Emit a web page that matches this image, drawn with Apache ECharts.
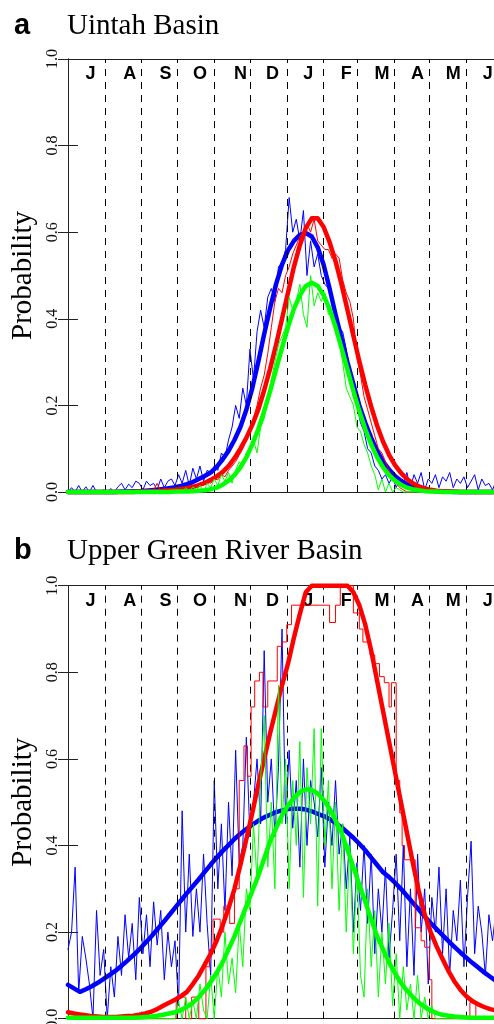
<!DOCTYPE html>
<html><head><meta charset="utf-8">
<script src="https://cdn.jsdelivr.net/npm/echarts@6/dist/echarts.min.js"></script>
<style>html,body{margin:0;padding:0;background:#fff}#c{width:494px;height:1024px}</style>
</head><body><div id="c"></div>
<script>
// ---------- axis labels ----------
const monthLabels = ['J','A','S','O','N','D','J','F','M','A','M','J'];
const monthLabelDays = [19, 52, 82, 111, 145, 172, 202, 234, 264, 294, 324, 353];
const monthStartDays = [31, 62, 92, 123, 153, 184, 215, 243, 274, 304, 335];
const yTickValues = [0, 0.2, 0.4, 0.6, 0.8, 1.0];
const panelLetters = ['a', 'b'];
const panelTitles = ['Uintah Basin', 'Upper Green River Basin'];
const yName = 'Probability';

// ---------- sampling grids (days since 1 July) ----------
const obsStep = 3;   // observed series: one value every 3 days
const fitStep = 5;   // fitted curves: one value every 5 days

// ---------- Panel a : Uintah Basin ----------
const uintahBlueObs = [
 0,0.01,0,0.015,0,0.012,0,0.015,0,0,0.005,
 0,0.008,0,0.012,0.02,0.005,0.018,0.01,0.025,0.02,
 0.005,0.025,0.015,0.02,0.005,0.03,0.01,0.025,0.03,0.015,
 0.04,0.02,0.05,0.015,0.055,0.03,0.06,0.025,0.05,0.045,
 0.06,0.05,0.09,0.08,0.12,0.15,0.2,0.17,0.24,0.2,
 0.33,0.26,0.37,0.42,0.38,0.45,0.47,0.44,0.52,0.53,
 0.56,0.68,0.6,0.63,0.58,0.65,0.5,0.58,0.52,0.55,
 0.5,0.48,0.47,0.44,0.42,0.38,0.37,0.33,0.28,0.22,
 0.2,0.16,0.14,0.1,0.09,0.06,0.05,0.03,0.04,0.02,
 0.035,0.01,0.03,0.02,0.045,0.01,0.04,0.02,0.045,0.005,
 0.03,0.02,0.04,0.01,0.035,0.025,0.045,0.01,0.03,0.02,
 0.035,0.01,0.025,0.04,0.005,0.03,0.015,0.02,0.005,0.025,0.01];
const uintahRedObs = [
 0,0,0,0,0,0,0,0,0,0,0,
 0,0,0,0,0,0,0,0,0,0,
 0,0,0,0.005,0.02,0,0.01,0,0.005,0,
 0.01,0.005,0.012,0.008,0.015,0.01,0.02,0.015,0.025,0.02,
 0.03,0.028,0.04,0.035,0.05,0.06,0.07,0.085,0.1,0.12,
 0.14,0.17,0.2,0.24,0.27,0.32,0.38,0.44,0.47,0.46,
 0.5,0.52,0.55,0.57,0.59,0.6,0.62,0.6,0.63,0.58,
 0.57,0.56,0.56,0.54,0.55,0.54,0.49,0.46,0.44,0.4,
 0.31,0.27,0.22,0.19,0.16,0.13,0.1,0.09,0.07,0.05,
 0.035,0.02,0.01,0.005,0,0,0,0,0,0,
 0,0,0,0,0,0,0,0,0,0,
 0,0,0,0,0,0,0,0,0,0,0];
const uintahGreenObs = [
 0,0,0,0,0,0,0,0,0,0,0,
 0,0,0,0,0,0,0,0,0,0,
 0,0,0,0,0,0,0,0,0,0,
 0.005,0,0.01,0,0.012,0.005,0.015,0,0.02,0.01,
 0.03,0.015,0.04,0.025,0.045,0.02,0.05,0.07,0.06,0.09,
 0.1,0.12,0.09,0.15,0.17,0.22,0.26,0.3,0.34,0.36,
 0.38,0.45,0.42,0.44,0.48,0.41,0.38,0.5,0.43,0.46,
 0.44,0.46,0.41,0.42,0.38,0.35,0.3,0.24,0.22,0.2,
 0.15,0.14,0.11,0.09,0.06,0.04,0.005,0.03,0,0.02,
 0,0.01,0.005,0,0,0,0,0,0,0,
 0,0,0,0,0,0,0,0,0,0,
 0,0,0,0,0,0,0,0,0,0,0];
const uintahBlueFit = [
 0,0,0,0,0,0,0,0,0,0.001,
 0.001,0.002,0.002,0.003,0.004,0.005,0.007,0.009,0.011,0.014,
 0.018,0.023,0.03,0.037,0.045,0.058,0.075,0.095,0.12,0.15,
 0.19,0.24,0.3,0.365,0.425,0.48,0.525,0.558,0.58,0.594,
 0.598,0.59,0.565,0.525,0.47,0.41,0.355,0.3,0.25,0.2,
 0.16,0.125,0.095,0.07,0.052,0.037,0.026,0.018,0.012,0.008,
 0.005,0.003,0.002,0.001,0.001,0,0,0,0,0,
 0,0,0,0];
const uintahRedFit = [
 0,0,0,0,0,0,0,0,0,0,
 0,0,0.001,0.001,0.002,0.002,0.003,0.004,0.005,0.007,
 0.009,0.012,0.016,0.021,0.028,0.036,0.046,0.06,0.078,0.1,
 0.125,0.155,0.19,0.235,0.285,0.34,0.4,0.46,0.52,0.57,
 0.61,0.632,0.632,0.612,0.577,0.533,0.48,0.421,0.361,0.302,
 0.247,0.197,0.153,0.116,0.086,0.062,0.044,0.03,0.02,0.013,
 0.0085,0.005,0.003,0.002,0.001,0.001,0,0,0,0,
 0,0,0,0];
const uintahGreenFit = [
 0,0,0,0,0,0,0,0,0,0,
 0,0,0,0,0,0,0,0,0.001,0.001,
 0.001,0.002,0.003,0.004,0.0065,0.01,0.017,0.026,0.039,0.057,
 0.08,0.11,0.145,0.187,0.233,0.283,0.333,0.381,0.423,0.454,
 0.476,0.483,0.476,0.454,0.423,0.381,0.333,0.283,0.233,0.187,
 0.145,0.11,0.08,0.057,0.039,0.026,0.017,0.01,0.0065,0.004,
 0.002,0.001,0.001,0,0,0,0,0,0,0,
 0,0,0,0];

// ---------- Panel b : Upper Green River Basin ----------
const greenRiverBlueObs = [
 0.16,0.2,0.35,0.06,0.19,0.14,0.08,0,0.25,0.1,0.16,
 0,0.12,0.05,0.19,0.1,0.24,0.14,0.22,0.09,0.28,
 0.15,0.24,0.12,0.27,0.17,0.25,0.09,0.2,0.12,0.18,
 0.03,0.48,0.2,0.38,0.19,0.3,0.2,0.38,0.22,0.1,
 0.55,0.3,0.45,0.25,0.5,0.33,0.62,0.36,0.4,0.65,
 0.42,0.5,0.6,0.45,0.85,0.5,0.6,0.42,0.58,0.9,
 0.45,0.62,0.44,0.55,0.35,0.6,0.4,0.55,0.5,0.42,
 0.58,0.35,0.5,0.4,0.55,0.38,0.45,0.3,0.42,0.2,
 0.36,0.25,0.4,0.22,0.38,0.15,0.3,0.2,0.35,0.14,
 0.25,0.38,0.18,0.4,0.12,0.3,0.1,0.38,0.2,0.3,
 0.08,0.28,0.2,0.35,0.15,0.3,0.1,0.25,0.18,0.32,
 0.12,0.28,0.41,0.15,0.26,0.2,0.1,0.24,0.18,0.25,0.2];
const greenRiverGreenObs = [
 0,0,0,0,0,0,0,0,0,0,0,
 0,0,0,0,0,0,0,0,0,0,
 0,0,0,0,0,0,0,0,0,0,
 0.04,0,0.05,0,0.04,0,0.08,0.02,0,0.1,
 0,0.12,0.05,0.2,0.08,0.14,0.06,0.22,0.12,0.3,
 0.25,0.45,0.32,0.55,0.7,0.35,0.5,0.3,0.77,0.45,
 0.6,0.3,0.55,0.4,0.64,0.28,0.58,0.45,0.67,0.26,
 0.67,0.4,0.55,0.3,0.5,0.25,0.45,0.2,0.4,0.15,
 0.35,0.1,0.05,0.3,0.12,0.25,0.05,0.2,0.08,0.22,
 0.03,0.15,0,0.12,0.02,0.08,0,0.1,0,0.05,
 0,0.03,0,0,0,0,0,0,0,0,
 0,0,0,0,0,0,0,0,0,0,0];
// red observed series is a step function: day where each level starts, and the level
const greenRiverRedStepDays = [0,91,99,104,110,116,119,122,128,131,136,140,144,148,151,154,157,161,164,168,
 176,180,184,188,220,225,229,240,245,248,254,258,262,266,270,272,276,279,281,283,292,297,300,304,306,338,343,365];
const greenRiverRedStepVals = [0,0.05,0,0.05,0,0.12,0.16,0.23,0.2,0.26,0.22,0.3,0.55,0.63,0.56,0.72,0.78,0.8,0.72,0.78,
 0.86,0.87,0.91,0.955,0.915,0.955,1.0,0.937,0.9,0.87,0.84,0.82,0.79,0.776,0.72,0.776,0.55,0.475,0.4,0.367,0.21,0.18,0.165,0.09,0,0.037,0,0];
const greenRiverBlueFit = [
 0.078,0.07,0.062,0.068,0.075,0.083,0.092,0.101,0.111,0.122,
 0.134,0.147,0.16,0.175,0.19,0.206,0.222,0.239,0.256,0.273,
 0.29,0.306,0.322,0.339,0.356,0.372,0.387,0.401,0.415,0.427,
 0.438,0.448,0.457,0.465,0.471,0.477,0.481,0.484,0.485,0.485,
 0.483,0.479,0.473,0.468,0.461,0.452,0.442,0.43,0.418,0.404,
 0.389,0.372,0.355,0.338,0.327,0.314,0.3,0.284,0.268,0.252,
 0.236,0.221,0.207,0.193,0.179,0.166,0.153,0.141,0.129,0.118,
 0.107,0.097,0.087,0.078];
const greenRiverRedFit = [
 0.015,0.012,0.01,0.008,0.006,0.005,0.004,0.004,0.004,0.005,
 0.006,0.007,0.009,0.012,0.016,0.022,0.03,0.037,0.044,0.052,
 0.062,0.08,0.1,0.125,0.15,0.18,0.215,0.255,0.3,0.355,
 0.415,0.475,0.54,0.6,0.66,0.715,0.77,0.82,0.88,0.935,
 0.985,1,1,1,1,1,1,1,0.985,0.955,
 0.91,0.85,0.78,0.71,0.64,0.57,0.5,0.43,0.36,0.295,
 0.24,0.2,0.167,0.138,0.11,0.086,0.067,0.052,0.041,0.033,
 0.027,0.022,0.019,0.016];
const greenRiverGreenFit = [
 0.002,0.002,0.002,0.002,0.002,0.002,0.002,0.002,0.002,0.002,
 0.002,0.002,0.003,0.004,0.005,0.007,0.009,0.012,0.015,0.02,
 0.027,0.037,0.05,0.066,0.085,0.106,0.13,0.16,0.19,0.225,
 0.26,0.295,0.33,0.37,0.41,0.44,0.47,0.492,0.51,0.523,
 0.53,0.528,0.52,0.505,0.485,0.458,0.43,0.39,0.35,0.31,
 0.27,0.23,0.19,0.16,0.13,0.105,0.083,0.065,0.05,0.037,
 0.027,0.019,0.013,0.009,0.007,0.005,0.004,0.003,0.002,0.002,
 0.002,0.002,0.002,0.002];

// ---------- build option ----------
const BLUE = '#0000FF', RED = '#FF0000', GREEN = '#00FF00';
const obsPairs = vals => vals.map((v, i) => [i * obsStep, v]);
const fitPairs = vals => vals.map((v, i) => [i * fitStep, v]);
const stepPairs = (days, vals) => days.map((d, i) => [d, vals[i]]);

const panels = [
  { top: 59, blueObs: obsPairs(uintahBlueObs), redObs: obsPairs(uintahRedObs), redStep: false,
    greenObs: obsPairs(uintahGreenObs), blueFit: fitPairs(uintahBlueFit), redFit: fitPairs(uintahRedFit),
    greenFit: fitPairs(uintahGreenFit) },
  { top: 585.7, blueObs: obsPairs(greenRiverBlueObs), redObs: stepPairs(greenRiverRedStepDays, greenRiverRedStepVals), redStep: 'end',
    greenObs: obsPairs(greenRiverGreenObs), blueFit: fitPairs(greenRiverBlueFit), redFit: fitPairs(greenRiverRedFit),
    greenFit: fitPairs(greenRiverGreenFit) }
];
const PLOT_LEFT = 68, PLOT_W = 434, PLOT_H = 433;

const grid = [], xAxis = [], yAxis = [], series = [], graphic = [];
const frameColor = '#222';
panels.forEach((p, k) => {
  grid.push({ left: PLOT_LEFT, top: p.top, width: PLOT_W, height: PLOT_H, containLabel: false, outerBoundsMode: 'none' });
  xAxis.push({ gridIndex: k, type: 'value', min: 0, max: 365, position: 'bottom',
    axisLine: { show: true, onZero: false, lineStyle: { color: frameColor, width: 1 } },
    axisTick: { show: false }, axisLabel: { show: false }, splitLine: { show: false } });
  xAxis.push({ gridIndex: k, type: 'value', min: 0, max: 365, position: 'top',
    axisLine: { show: true, onZero: false, lineStyle: { color: frameColor, width: 1 } },
    axisTick: { show: false }, splitLine: { show: false },
    axisLabel: { show: true, inside: true, margin: 6, customValues: monthLabelDays,
      formatter: v => { const i = monthLabelDays.indexOf(Math.round(v)); return i >= 0 ? monthLabels[i] : ''; },
      fontFamily: '"Liberation Sans", Arial, sans-serif', fontWeight: 'bold', fontSize: 18, color: '#000' } });
  yAxis.push({ gridIndex: k, type: 'value', min: 0, max: 1, interval: 0.2, position: 'left',
    axisLine: { show: true, lineStyle: { color: frameColor, width: 1 } },
    axisTick: { show: true, inside: true, length: 10, lineStyle: { color: '#222' } },
    splitLine: { show: false },
    axisLabel: { rotate: 90, margin: 7, fontFamily: '"Liberation Serif", "Times New Roman", serif', fontSize: 16, color: '#111',
      formatter: v => v.toFixed(1) } });
  yAxis.push({ gridIndex: k, type: 'value', min: 0, max: 1, interval: 0.2, position: 'right',
    axisLine: { show: true, lineStyle: { color: frameColor, width: 1 } },
    axisTick: { show: true, inside: true, length: 10, lineStyle: { color: '#222' } },
    splitLine: { show: false }, axisLabel: { show: false } });

  const xi = 2 * k, yi = 2 * k;
  // dashed month separators
  series.push({ type: 'line', xAxisIndex: xi, yAxisIndex: yi, data: [[0, 0]], symbol: 'none', silent: true,
    lineStyle: { opacity: 0 }, z: 1,
    markLine: { silent: true, symbol: ['none', 'none'], label: { show: false }, animation: false,
      lineStyle: { color: '#000', type: [7, 6], width: 1 },
      emphasis: { disabled: true },
      data: monthStartDays.map(d => ({ xAxis: d })) } });
  const add = (data, color, width, z, step) => series.push({ type: 'line', xAxisIndex: xi, yAxisIndex: yi, data,
    symbol: 'none', showSymbol: false, clip: false, silent: true, step: step || false, z,
    lineStyle: { color, width, join: 'round', cap: 'round' }, emphasis: { disabled: true } });
  add(p.blueObs, BLUE, 1, 3);
  add(p.blueFit, BLUE, 4.5, 4);
  add(p.redObs, RED, 1, 5, p.redStep);
  add(p.redFit, RED, 4.5, 6);
  add(p.greenObs, GREEN, 1, 7);
  add(p.greenFit, GREEN, 4.5, 8);

  const titleY = k === 0 ? 26 : 551;
  graphic.push({ type: 'text', x: 14, y: titleY, silent: true,
    style: { text: panelLetters[k], font: 'bold 29px "Liberation Sans", Arial, sans-serif', fill: '#000', align: 'left', verticalAlign: 'middle' } });
  graphic.push({ type: 'text', x: 67, y: titleY, silent: true,
    style: { text: panelTitles[k], font: '29px "Liberation Serif", "Times New Roman", serif', fill: '#000', align: 'left', verticalAlign: 'middle' } });
  graphic.push({ type: 'text', x: 23.5, y: p.top + PLOT_H / 2, rotation: Math.PI / 2, silent: true,
    style: { text: yName, font: '29px "Liberation Serif", "Times New Roman", serif', fill: '#000', align: 'center', verticalAlign: 'middle' } });
});

const chart = echarts.init(document.getElementById('c'), null, { renderer: 'canvas' });
chart.setOption({ animation: false, backgroundColor: '#fff', grid, xAxis, yAxis, series, graphic });
</script>
</body></html>
